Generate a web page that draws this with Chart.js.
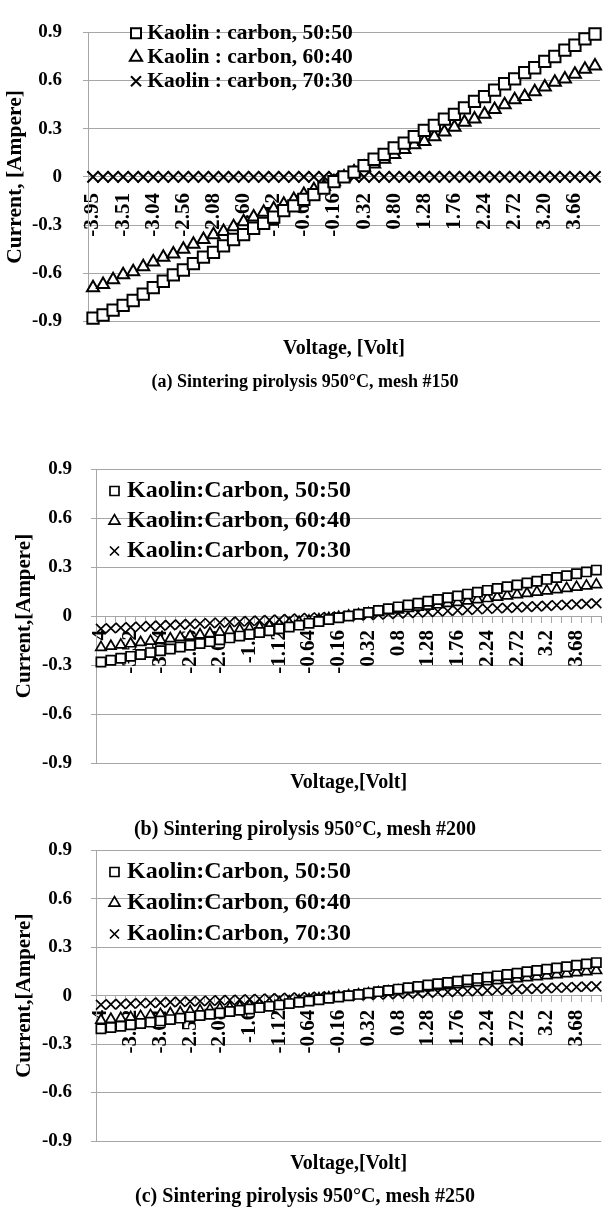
<!DOCTYPE html>
<html>
<head>
<meta charset="utf-8">
<script src="https://cdn.jsdelivr.net/npm/chart.js@4.4.1/dist/chart.umd.min.js"></script>
<style>
  html, body { margin: 0; padding: 0; background: #fff; width: 610px; height: 1214px; overflow: hidden; }
  .panel { position: absolute; left: 0; width: 610px; }
  canvas { display: block; }
</style>
</head>
<body>
<div class="panel" style="top:0px"><canvas id="chartA" width="610" height="400"></canvas></div>
<div class="panel" style="top:420px"><canvas id="chartB" width="610" height="425"></canvas></div>
<div class="panel" style="top:820px"><canvas id="chartC" width="610" height="394"></canvas></div>
<script>
// voltage categories (panel a is measured, b and c use the nominal sweep)
const voltsA = ['-3.95','-3.80','-3.66','-3.51','-3.36','-3.20','-3.04','-2.88','-2.72','-2.56',
  '-2.40','-2.24','-2.08','-1.92','-1.76','-1.60','-1.44','-1.28','-1.12','-0.96',
  '-0.80','-0.64','-0.48','-0.32','-0.16','0.00','0.16','0.32','0.48','0.64',
  '0.80','0.96','1.12','1.28','1.44','1.60','1.76','1.92','2.08','2.24',
  '2.40','2.56','2.72','2.88','3.04','3.20','3.36','3.51','3.66','3.82','3.98'];
const voltsBC = ['-4','-3.84','-3.68','-3.52','-3.36','-3.2','-3.04','-2.88','-2.72','-2.56',
  '-2.4','-2.24','-2.08','-1.92','-1.76','-1.6','-1.44','-1.28','-1.12','-0.96',
  '-0.8','-0.64','-0.48','-0.32','-0.16','0','0.16','0.32','0.48','0.64',
  '0.8','0.96','1.12','1.28','1.44','1.6','1.76','1.92','2.08','2.24',
  '2.4','2.56','2.72','2.88','3.04','3.2','3.36','3.52','3.68','3.84','4'];

const yTicks = [-0.9, -0.6, -0.3, 0, 0.3, 0.6, 0.9];

// (a) mesh #150
const a5050 = [-0.88,-0.86,-0.83,-0.80,-0.77,-0.73,-0.69,-0.65,-0.61,-0.58,
  -0.54,-0.50,-0.47,-0.43,-0.39,-0.36,-0.32,-0.29,-0.25,-0.21,
  -0.18,-0.14,-0.11,-0.07,-0.03,0.00,0.03,0.07,0.11,0.14,
  0.18,0.21,0.25,0.29,0.32,0.36,0.39,0.43,0.47,0.50,
  0.54,0.58,0.61,0.65,0.68,0.72,0.75,0.79,0.82,0.86,0.89];
const a6040 = [-0.69,-0.67,-0.64,-0.61,-0.59,-0.56,-0.53,-0.50,-0.48,-0.45,
  -0.42,-0.39,-0.36,-0.34,-0.31,-0.28,-0.25,-0.22,-0.20,-0.17,
  -0.14,-0.11,-0.08,-0.06,-0.03,0.00,0.03,0.06,0.08,0.11,
  0.14,0.17,0.20,0.22,0.25,0.28,0.31,0.34,0.36,0.39,
  0.42,0.45,0.48,0.50,0.53,0.56,0.59,0.61,0.64,0.67,0.69];
const a7030 = [0,0,0,0,0,0,0,0,0,0, 0,0,0,0,0,0,0,0,0,0, 0,0,0,0,0,0,0,0,0,0,
  0,0,0,0,0,0,0,0,0,0, 0,0,0,0,0,0,0,0,0,0, 0];

// (b) mesh #200
const b5050 = [-0.282,-0.271,-0.259,-0.247,-0.236,-0.224,-0.213,-0.202,-0.190,-0.179,
  -0.168,-0.157,-0.146,-0.134,-0.123,-0.112,-0.101,-0.090,-0.078,-0.067,
  -0.056,-0.045,-0.034,-0.022,-0.011,0.000,0.011,0.022,0.034,0.045,
  0.056,0.067,0.078,0.090,0.101,0.112,0.123,0.134,0.146,0.157,
  0.168,0.179,0.190,0.202,0.213,0.224,0.236,0.247,0.259,0.270,0.281];
const b6040 = [-0.192,-0.185,-0.177,-0.170,-0.162,-0.154,-0.146,-0.139,-0.131,-0.123,
  -0.115,-0.107,-0.100,-0.092,-0.084,-0.077,-0.069,-0.061,-0.054,-0.046,
  -0.038,-0.031,-0.023,-0.015,-0.008,0.000,0.008,0.015,0.023,0.031,
  0.038,0.046,0.054,0.061,0.069,0.077,0.084,0.092,0.100,0.107,
  0.115,0.123,0.131,0.138,0.146,0.154,0.162,0.169,0.177,0.184,0.192];
const b7030 = [-0.078,-0.075,-0.072,-0.069,-0.066,-0.062,-0.059,-0.056,-0.053,-0.050,
  -0.047,-0.044,-0.041,-0.037,-0.034,-0.031,-0.028,-0.025,-0.022,-0.019,
  -0.016,-0.012,-0.009,-0.006,-0.003,0.000,0.003,0.006,0.009,0.012,
  0.016,0.019,0.022,0.025,0.028,0.031,0.034,0.037,0.041,0.044,
  0.047,0.050,0.053,0.056,0.059,0.062,0.066,0.069,0.072,0.075,0.078];

// (c) mesh #250
const c5050 = [-0.205,-0.197,-0.189,-0.180,-0.172,-0.164,-0.156,-0.148,-0.139,-0.131,
  -0.123,-0.115,-0.107,-0.098,-0.090,-0.082,-0.074,-0.066,-0.057,-0.049,
  -0.041,-0.033,-0.025,-0.016,-0.008,0.000,0.008,0.016,0.025,0.033,
  0.041,0.049,0.057,0.066,0.074,0.082,0.090,0.098,0.107,0.115,
  0.123,0.131,0.139,0.148,0.156,0.164,0.172,0.180,0.189,0.197,0.205];
const c6040 = [-0.152,-0.146,-0.140,-0.134,-0.128,-0.122,-0.116,-0.110,-0.104,-0.098,
  -0.092,-0.086,-0.080,-0.073,-0.067,-0.061,-0.055,-0.049,-0.043,-0.037,
  -0.031,-0.025,-0.018,-0.012,-0.006,0.000,0.006,0.012,0.019,0.025,
  0.031,0.037,0.044,0.050,0.056,0.062,0.068,0.075,0.081,0.087,
  0.093,0.100,0.106,0.112,0.118,0.124,0.131,0.137,0.143,0.149,0.156];
const c7030 = [-0.056,-0.054,-0.052,-0.049,-0.047,-0.045,-0.043,-0.040,-0.038,-0.036,
  -0.034,-0.031,-0.029,-0.027,-0.025,-0.022,-0.020,-0.018,-0.016,-0.013,
  -0.011,-0.009,-0.007,-0.004,-0.002,0.000,0.002,0.005,0.007,0.009,
  0.012,0.014,0.016,0.019,0.021,0.023,0.026,0.028,0.030,0.033,
  0.035,0.037,0.040,0.042,0.044,0.047,0.049,0.051,0.054,0.056,0.058];

const namesA = ['Kaolin : carbon, 50:50', 'Kaolin : carbon, 60:40', 'Kaolin : carbon, 70:30'];
const namesBC = ['Kaolin:Carbon, 50:50', 'Kaolin:Carbon, 60:40', 'Kaolin:Carbon, 70:30'];

const SERIF = '"Liberation Serif", "Times New Roman", serif';
const GRID = '#a6a6a6';

// legend sits inside the plot; chartArea legends get top = 0, so move it by hand
// (and drop its clip so the first marker isn't cut off)
const legendNudge = {
  id: 'legendNudge',
  afterLayout(chart, args, opts) {
    const lg = chart.legend;
    lg.left += opts.x;
    lg.top = opts.y;
    if (typeof lg._draw === 'function') {
      lg.draw = function () { if (this.options.display) this._draw(); };
    }
  }
};

function makePanel(id, p) {
  const mk = (label, data, style, r) => ({
    label: label,
    data: data,
    showLine: false,
    clip: false,
    pointStyle: style,
    pointRadius: r,
    pointBorderWidth: p.bw,
    pointBorderColor: '#000',
    pointBackgroundColor: '#fff',
    borderColor: '#000',
    backgroundColor: '#fff'
  });

  return new Chart(document.getElementById(id), {
    type: 'line',
    data: {
      labels: p.volts,
      datasets: [
        mk(p.names[0], p.s1, 'rect', p.r[0]),
        mk(p.names[1], p.s2, 'triangle', p.r[1]),
        mk(p.names[2], p.s3, 'crossRot', p.r[2])
      ]
    },
    options: {
      responsive: false,
      animation: false,
      events: [],
      layout: { padding: { top: p.padTop, left: 0, right: 0, bottom: p.padBottom } },
      scales: {
        x: {
          type: 'category',
          position: { y: 0 },
          offset: true,
          afterFit: (s) => { s.height = 0; s.paddingLeft = 0; s.paddingRight = 0; },
          grid: { display: true, drawOnChartArea: false, drawTicks: p.xTicks, tickLength: 6, color: GRID, offset: true },
          border: { display: true, color: GRID, width: 1 },
          ticks: {
            autoSkip: false,
            minRotation: 90,
            maxRotation: 90,
            padding: p.xLabelPad,
            color: '#000',
            font: { family: SERIF, size: p.xFont, weight: 'bold' },
            callback: function (v, i) { return i % 3 === 0 ? this.getLabelForValue(v) : ''; }
          }
        },
        y: {
          min: -0.9,
          max: 0.9,
          afterFit: (s) => { s.width = p.axisX; },
          afterBuildTicks: (s) => { s.ticks = yTicks.map(v => ({ value: v })); },
          grid: { color: GRID, lineWidth: 1, tickLength: 5 },
          border: { display: true, color: GRID },
          ticks: {
            padding: p.yLabelPad,
            color: '#000',
            font: { family: SERIF, size: 19, weight: 'bold' },
            callback: (v) => String(v)
          },
          title: {
            display: true,
            text: p.yTitle,
            color: '#000',
            font: { family: SERIF, size: p.yTitleFont, weight: 'bold' },
            padding: { top: p.yTitlePad, bottom: 0 }
          }
        }
      },
      plugins: {
        tooltip: { enabled: false },
        legend: {
          position: 'chartArea',
          align: 'start',
          labels: {
            usePointStyle: true,
            boxWidth: 1,
            boxHeight: p.legBox,
            padding: p.legPad,
            color: '#000',
            font: { family: SERIF, size: p.legFont, weight: 'bold' }
          }
        },
        subtitle: {
          display: true,
          position: 'bottom',
          fullSize: false,
          text: p.xTitle,
          color: '#000',
          font: { family: SERIF, size: 20, weight: 'bold' },
          padding: { top: p.xTitlePad, bottom: 0 }
        },
        title: {
          display: true,
          position: 'bottom',
          text: p.caption,
          color: '#000',
          font: { family: SERIF, size: p.capFont, weight: 'bold' },
          padding: { top: p.capPad, bottom: 0 }
        },
        legendNudge: p.nudge
      }
    },
    plugins: [legendNudge]
  });
}

makePanel('chartA', {
  volts: voltsA, names: namesA, s1: a5050, s2: a6040, s3: a7030,
  r: [8, 7, 8], bw: 2,
  padTop: 13, padBottom: 7, axisX: 88,
  xTicks: false, xLabelPad: 16, xFont: 21,
  yLabelPad: 21, yTitle: 'Current, [Ampere]', yTitleFont: 21.5, yTitlePad: 3,
  legBox: 10, legPad: 2.5, legFont: 21.5, nudge: { x: 45, y: 20 },
  xTitle: 'Voltage, [Volt]', xTitlePad: 15,
  caption: '(a) Sintering pirolysis 950\u00B0C, mesh #150', capFont: 18, capPad: 11
});

makePanel('chartB', {
  volts: voltsBC, names: namesBC, s1: b5050, s2: b6040, s3: b7030,
  r: [6.5, 6, 7], bw: 1.7,
  padTop: 49, padBottom: 3, axisX: 96,
  xTicks: true, xLabelPad: 8, xFont: 21,
  yLabelPad: 19, yTitle: 'Current,[Ampere]', yTitleFont: 21, yTitlePad: 12,
  legBox: 9, legPad: 6, legFont: 24, nudge: { x: 12, y: 53 },
  xTitle: 'Voltage,[Volt]', xTitlePad: 8,
  caption: '(b) Sintering pirolysis 950\u00B0C, mesh #200', capFont: 20, capPad: 23
});

makePanel('chartC', {
  volts: voltsBC, names: namesBC, s1: c5050, s2: c6040, s3: c7030,
  r: [6.5, 6, 7], bw: 1.7,
  padTop: 28, padBottom: 5, axisX: 96,
  xTicks: true, xLabelPad: 8, xFont: 21,
  yLabelPad: 19, yTitle: 'Current,[Ampere]', yTitleFont: 21, yTitlePad: 12,
  legBox: 9, legPad: 7, legFont: 24, nudge: { x: 11, y: 33 },
  xTitle: 'Voltage,[Volt]', xTitlePad: 11,
  caption: '(c) Sintering pirolysis 950\u00B0C, mesh #250', capFont: 20, capPad: 9
});
</script>
</body>
</html>
